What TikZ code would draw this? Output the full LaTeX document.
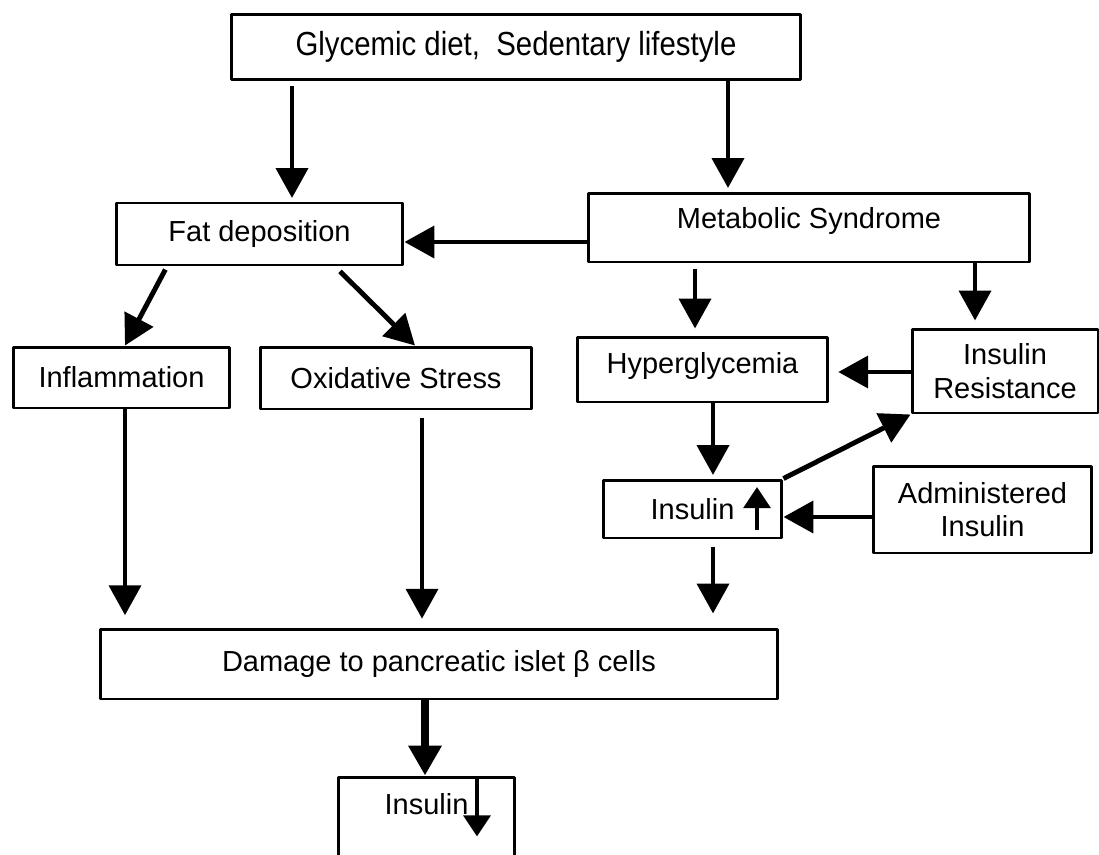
\documentclass[tikz,border=0pt]{standalone}
\usepackage{fontspec}
\setmainfont{Liberation Sans}
\newfontfamily\narrowfont[FakeStretch=0.88]{Liberation Sans}
\usetikzlibrary{arrows.meta,calc}
\begin{document}
\begin{tikzpicture}[x=.02cm,y=-.02cm,line join=round,font=\fontsize{16.5}{19}\selectfont,
box/.style={draw,line width=1.7pt,align=center,inner sep=0pt},
arr/.style={line width=2.8pt,-{Triangle[width=18pt,length=17pt]}},
tiny/.style={line width=2.8pt,-{Triangle[width=15pt,length=12pt]}}]
\useasboundingbox (0,0) rectangle (1099,855);
\node[box,minimum width=11.38cm,minimum height=1.3cm,font=\narrowfont\fontsize{19}{22}\selectfont] (diet) at (516,47) {Glycemic diet,~ Sedentary lifestyle};
\node[box,minimum width=5.74cm,minimum height=1.24cm] (fat) at (259.5,234) {Fat deposition};
\node[box,minimum width=8.84cm,minimum height=1.38cm,text depth=.4cm] (metab) at (809,227.5) {Metabolic Syndrome};
\node[box,minimum width=4.34cm,minimum height=1.22cm] (inflam) at (121.5,377.5) {Inflammation};
\node[box,minimum width=5.44cm,minimum height=1.24cm] (oxid) at (396,378) {Oxidative Stress};
\node[box,minimum width=5.02cm,minimum height=1.3cm,text depth=.25cm] (hyper) at (702.5,369.5) {Hyperglycemia};
\node[box,minimum width=3.72cm,minimum height=1.68cm] (insres) at (1005,371) {Insulin\\Resistance};
\node[box,minimum width=3.58cm,minimum height=1.16cm] (insup) at (692.5,509) {Insulin};
\node[box,minimum width=4.38cm,minimum height=1.74cm] (admin) at (982.5,509.5) {Administered\\Insulin};
\node[box,minimum width=13.56cm,minimum height=1.4cm] (damage) at (439,664) {Damage to pancreatic islet β cells};
\node[box,minimum width=3.54cm,minimum height=2.46cm,text depth=1.4cm] (insdown) at (426.5,838.5) {Insulin};
% top row
\draw[arr,shorten <=3pt,shorten >=2pt] (292,0 |- diet.south) -- (292,0 |- fat.north);
\draw[arr,shorten >=2pt] (728,0 |- diet.south) -- (728,0 |- metab.north);
\draw[arr] (metab.west |- 0,242) -- (fat.east |- 0,242);
% fat deposition branch
\draw[arr,shorten <=2pt] (167,0 |- fat.south) -- (125,0 |- inflam.north);
\draw[arr,shorten <=4pt] (335,0 |- fat.south) -- (415,0 |- oxid.north);
\draw[arr,shorten >=7pt] (125,0 |- inflam.south) -- (125,0 |- damage.north);
\draw[arr,shorten <=4pt,shorten >=5pt] (422,0 |- oxid.south) -- (422,0 |- damage.north);
% metabolic branch
\draw[arr,shorten <=3pt,shorten >=4pt] (695,0 |- metab.south) -- (695,0 |- hyper.north);
\draw[arr,shorten >=4pt] (975,0 |- metab.south) -- (975,0 |- insres.north);
\draw[arr,shorten >=5pt] (insres.west |- 0,372) -- (hyper.east |- 0,372);
\draw[arr,shorten >=2pt] (713,0 |- hyper.south) -- (713,0 |- insup.north);
\draw[arr] (insup.north east) -- (insres.south west);
\draw[arr] (admin.west |- 0,517) -- (insup.east |- 0,517);
\draw[arr,shorten <=4pt,shorten >=8pt] (713,0 |- insup.south) -- (713,0 |- damage.north);
% down to insulin
\draw[arr,line width=4.5pt] (425,0 |- damage.south) -- (425,0 |- insdown.north);
\draw[tiny] ($(insup.center)+(64.5,21)$) -- ++(0,-43);
\draw[tiny] ($(insdown.north)+(50.5,0)$) -- ++(0,61);
\end{tikzpicture}
\end{document}
